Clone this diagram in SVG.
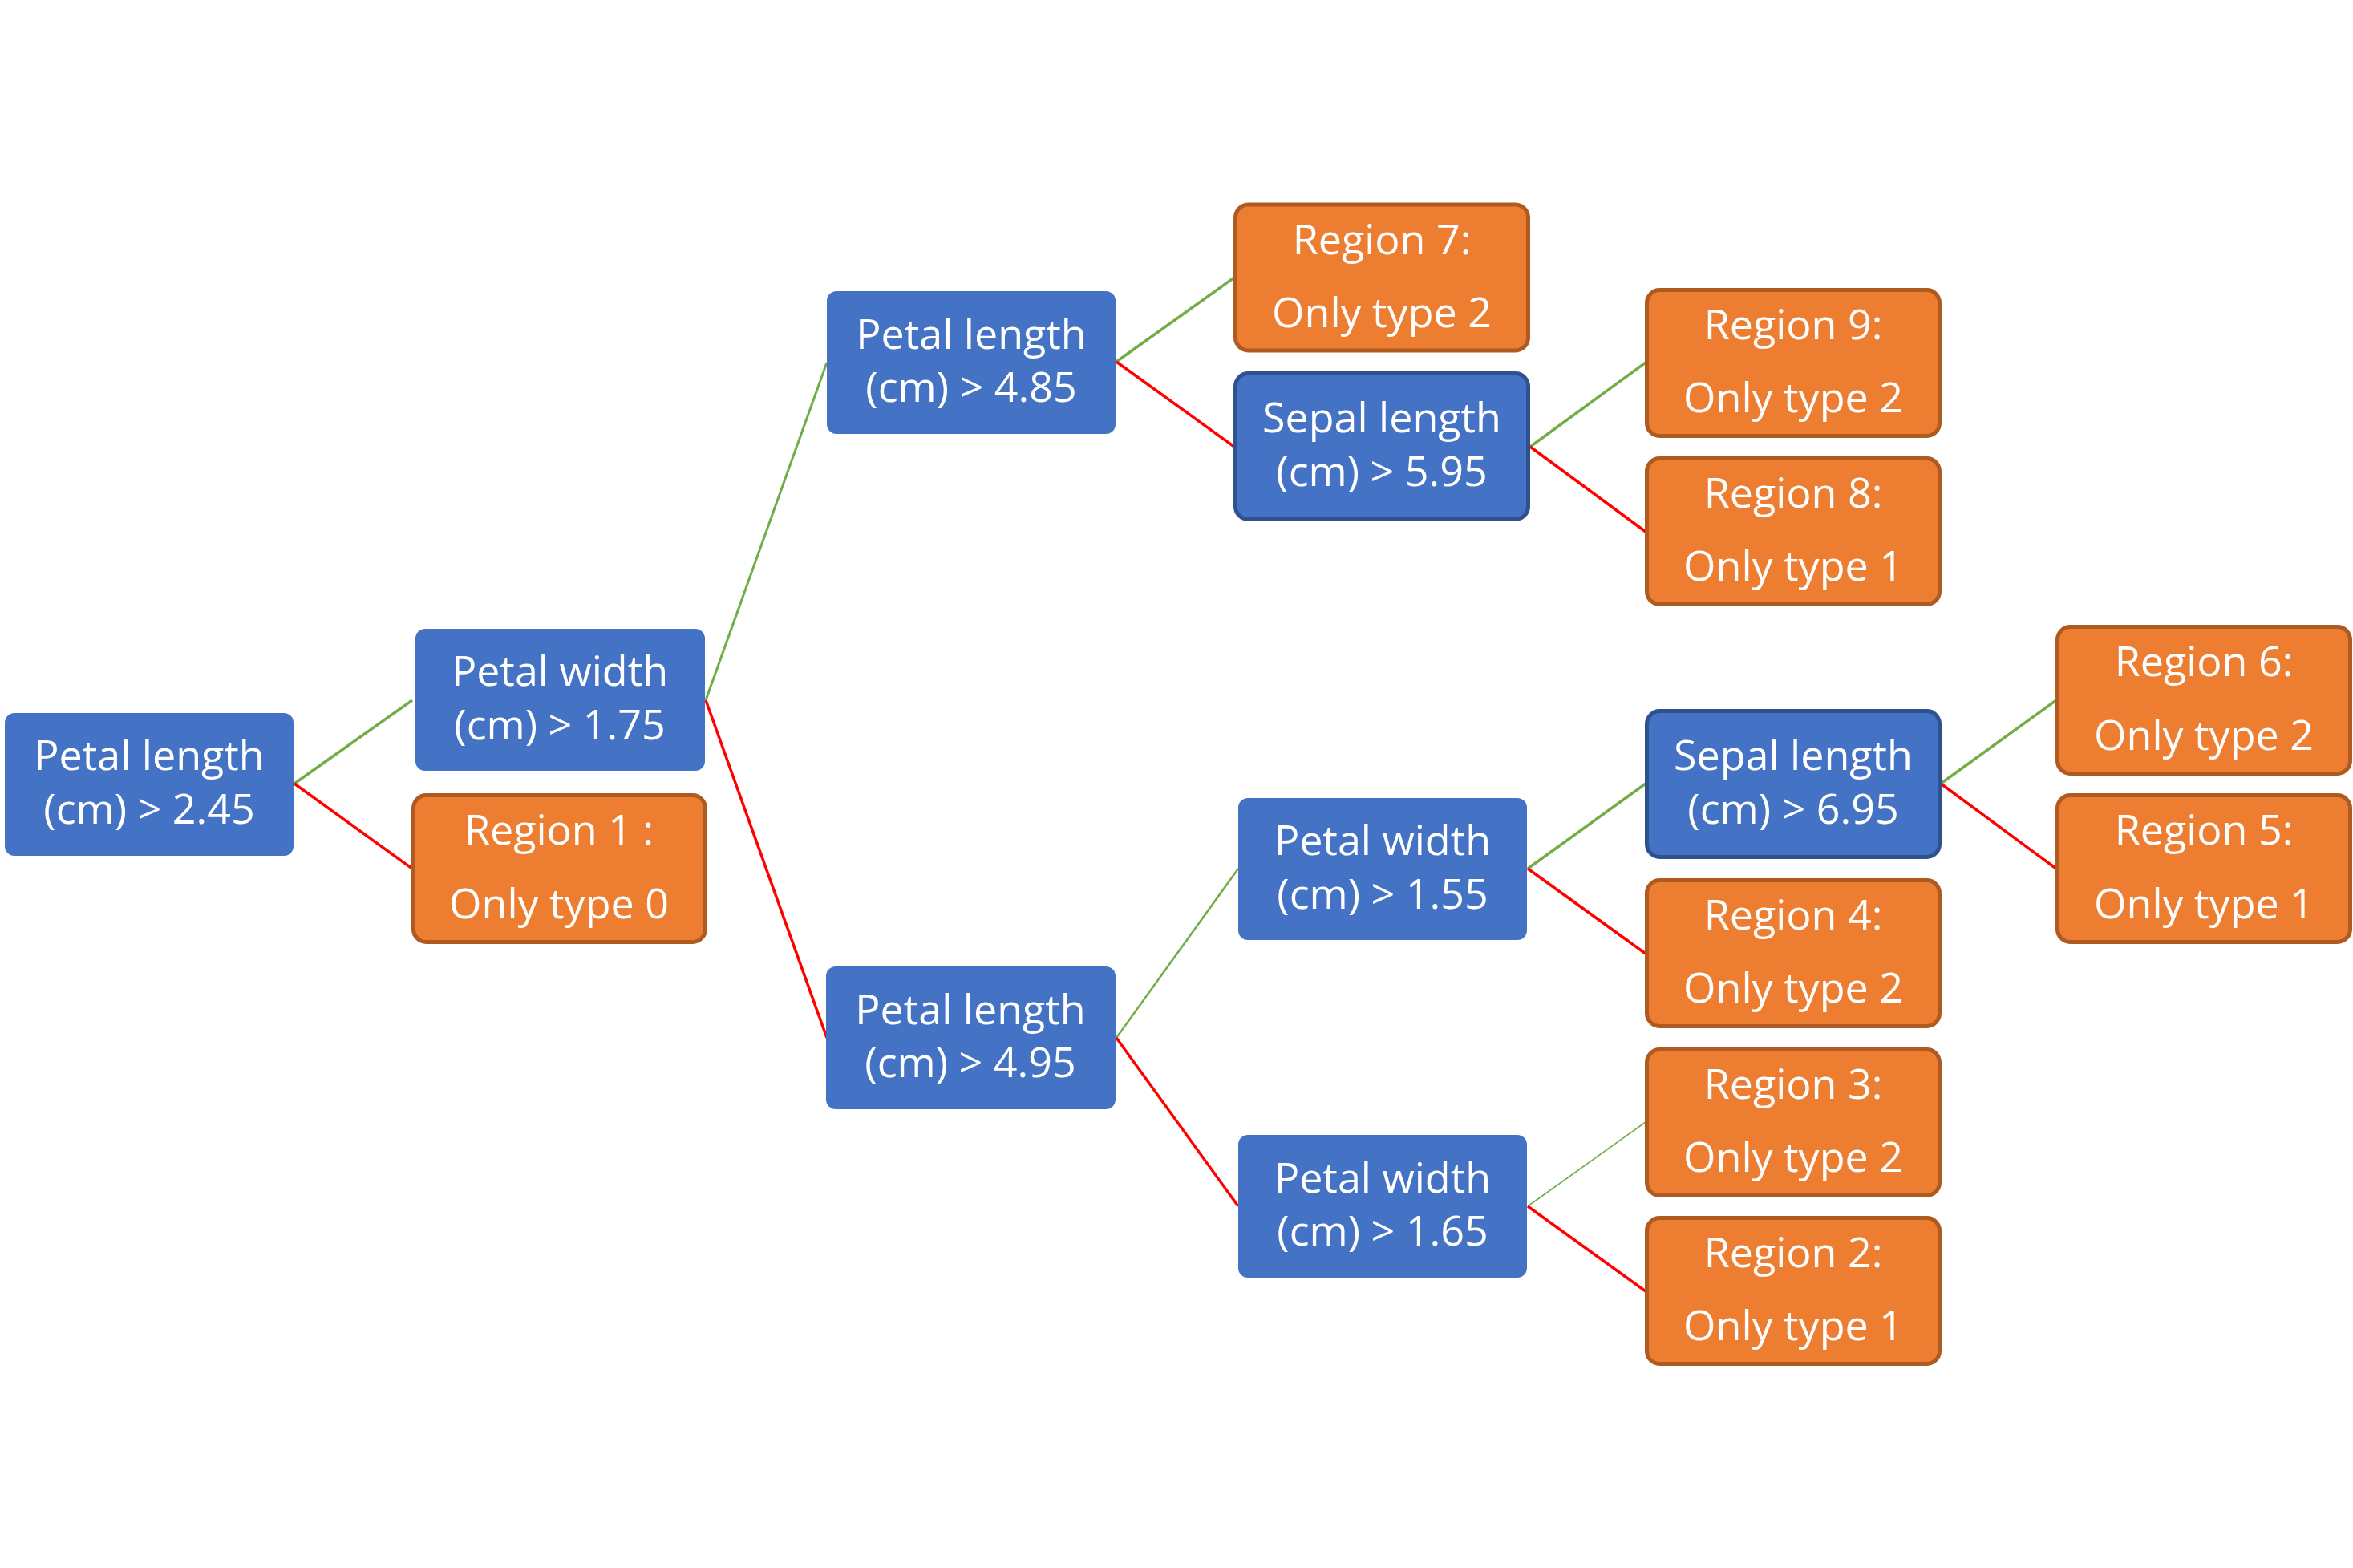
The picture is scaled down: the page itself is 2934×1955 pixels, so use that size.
<svg xmlns="http://www.w3.org/2000/svg" width="2934" height="1955" viewBox="0 0 2934 1955">
<style>
.b{fill:#4472C4}
.bs{fill:#4472C4;stroke:#2F528F;stroke-width:5}
.o{fill:#ED7D31;stroke:#AE5A21;stroke-width:5}
text{font-family:"Open Sans","Noto Sans","Liberation Sans",sans-serif;font-size:52px;fill:#FFFFFF;text-anchor:middle}
.g{stroke:#70AD47;stroke-width:3.5;fill:none}
.r{stroke:#FF0000;stroke-width:3.5;fill:none}
</style>
<rect width="2934" height="1955" fill="#FFFFFF"/>
<g id="connectors">
<line class="g" x1="367" y1="977" x2="514" y2="873"/>
<line class="r" x1="367" y1="977" x2="514" y2="1083"/>
<line class="g" x1="880" y1="873" x2="1031" y2="452" style="stroke-width:3"/>
<line class="r" x1="880" y1="873" x2="1031" y2="1294"/>
<line class="g" x1="1392" y1="451" x2="1539" y2="346"/>
<line class="r" x1="1392" y1="451" x2="1539" y2="557"/>
<line class="g" x1="1908" y1="557" x2="2052" y2="452"/>
<line class="r" x1="1908" y1="557" x2="2052" y2="663"/>
<line class="g" x1="1392" y1="1294" x2="1544" y2="1083" style="stroke-width:2.5"/>
<line class="r" x1="1392" y1="1294" x2="1544" y2="1504"/>
<line class="g" x1="1905" y1="1083" x2="2052" y2="977"/>
<line class="r" x1="1905" y1="1083" x2="2052" y2="1189"/>
<line class="g" x1="2420" y1="977" x2="2564" y2="873"/>
<line class="r" x1="2420" y1="977" x2="2564" y2="1083"/>
<line class="g" x1="1905" y1="1504" x2="2052" y2="1399" style="stroke-width:1.6"/>
<line class="r" x1="1905" y1="1504" x2="2052" y2="1610"/>
</g>
<g id="n_root"><rect class="b" x="6" y="889" width="360" height="178" rx="12"/><text x="186" y="960">Petal length</text><text x="186" y="1027">(cm) &gt; 2.45</text></g>
<g id="n_pw175"><rect class="b" x="518" y="784" width="361" height="177" rx="12"/><text x="698" y="855">Petal width</text><text x="698" y="922">(cm) &gt; 1.75</text></g>
<g id="n_r1"><rect class="o" x="515.5" y="991.5" width="364" height="183" rx="16"/><text x="697" y="1053">Region 1 :</text><text x="697" y="1145">Only type 0</text></g>
<g id="n_pl485"><rect class="b" x="1031" y="363" width="360" height="178" rx="12"/><text x="1211" y="435">Petal length</text><text x="1211" y="501">(cm) &gt; 4.85</text></g>
<g id="n_pl495"><rect class="b" x="1030" y="1205" width="361" height="178" rx="12"/><text x="1210" y="1277">Petal length</text><text x="1210" y="1343">(cm) &gt; 4.95</text></g>
<g id="n_r7"><rect class="o" x="1540.5" y="255" width="365" height="182" rx="16"/><text x="1723" y="317">Region 7:</text><text x="1723" y="408">Only type 2</text></g>
<g id="n_s595"><rect class="bs" x="1540.5" y="465.5" width="365" height="182" rx="16"/><text x="1723" y="539">Sepal length</text><text x="1723" y="606">(cm) &gt; 5.95</text></g>
<g id="n_r9"><rect class="o" x="2053.5" y="361.5" width="365" height="182" rx="16"/><text x="2236" y="423">Region 9:</text><text x="2236" y="514">Only type 2</text></g>
<g id="n_r8"><rect class="o" x="2053.5" y="571.5" width="365" height="182" rx="16"/><text x="2236" y="633">Region 8:</text><text x="2236" y="724">Only type 1</text></g>
<g id="n_pw155"><rect class="b" x="1544" y="995" width="360" height="177" rx="12"/><text x="1724" y="1066">Petal width</text><text x="1724" y="1133">(cm) &gt; 1.55</text></g>
<g id="n_pw165"><rect class="b" x="1544" y="1415" width="360" height="178" rx="12"/><text x="1724" y="1487">Petal width</text><text x="1724" y="1553">(cm) &gt; 1.65</text></g>
<g id="n_s695"><rect class="bs" x="2053.5" y="886.5" width="365" height="182" rx="16"/><text x="2236" y="960">Sepal length</text><text x="2236" y="1027">(cm) &gt; 6.95</text></g>
<g id="n_r4"><rect class="o" x="2053.5" y="1097.5" width="365" height="182" rx="16"/><text x="2236" y="1159">Region 4:</text><text x="2236" y="1250">Only type 2</text></g>
<g id="n_r3"><rect class="o" x="2053.5" y="1308.5" width="365" height="182" rx="16"/><text x="2236" y="1370">Region 3:</text><text x="2236" y="1461">Only type 2</text></g>
<g id="n_r2"><rect class="o" x="2053.5" y="1518.5" width="365" height="182" rx="16"/><text x="2236" y="1580">Region 2:</text><text x="2236" y="1671">Only type 1</text></g>
<g id="n_r6"><rect class="o" x="2565.5" y="781.5" width="365" height="183" rx="16"/><text x="2748" y="843">Region 6:</text><text x="2748" y="935">Only type 2</text></g>
<g id="n_r5"><rect class="o" x="2565.5" y="991.5" width="365" height="183" rx="16"/><text x="2748" y="1053">Region 5:</text><text x="2748" y="1145">Only type 1</text></g>
</svg>
